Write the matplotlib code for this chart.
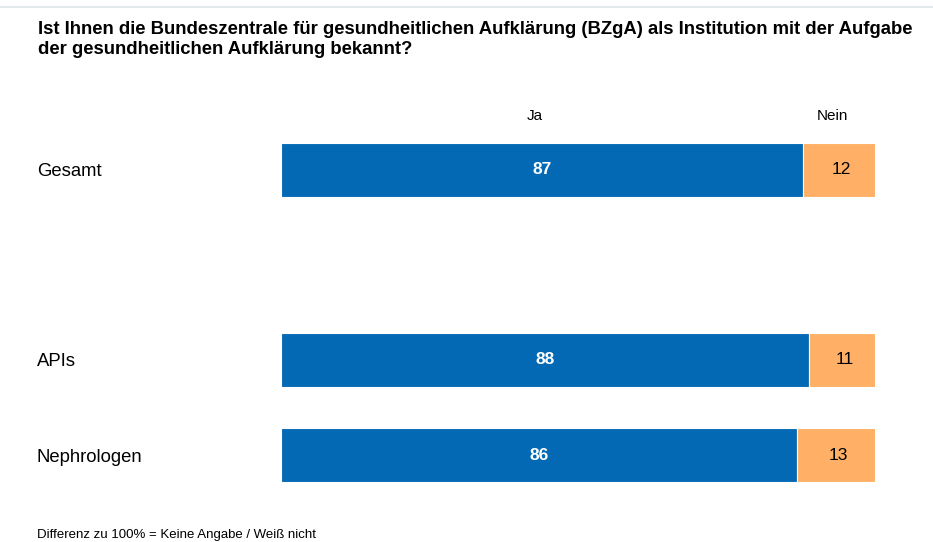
import matplotlib.pyplot as plt
import numpy as np

plt.rcParams['font.family'] = ['Liberation Sans', 'DejaVu Sans']

categories = ["Gesamt", "APIs", "Nephrologen"]
positions = [0, 2, 3]
ja = [87, 88, 86]
nein = [12, 11, 13]
series_labels = ["Ja", "Nein"]

blue = "#0369B5"
orange = "#FFB066"

W, H = 933, 542
fig = plt.figure(figsize=(W/100, H/100), dpi=100)
ax = fig.add_axes([281/W, (542-502.5)/H, 594/W, 380/H])
ax.set_xlim(0, 99)
ax.set_ylim(3.5, -0.5)
ax.axis('off')

bh = 0.57
ax.barh(positions, ja, height=bh, color=blue, edgecolor='white', linewidth=0.8)
ax.barh(positions, nein, left=ja, height=bh, color=orange, edgecolor='white', linewidth=0.8)

for p, j, n in zip(positions, ja, nein):
    ax.text(j/2, p, str(j), ha='center', va='center', color='white', fontsize=12.5, fontweight='bold')
    ax.text(j + n/2 + 0.4, p, str(n), ha='center', va='center', color='black', fontsize=12.5)

# category labels
for p, c in zip(positions, categories):
    ypix = ax.transData.transform((0, p))[1]
    fig.text(37/W, (ypix - 2)/H, c, ha='left', va='center', fontsize=13.3)

# column headers
fig.text(535/W, 1 - 120/H, series_labels[0], ha='center', va='baseline', fontsize=11)
fig.text(832/W, 1 - 120/H, series_labels[1], ha='center', va='baseline', fontsize=11)

fig.text(38/W, 1 - 34/H,
         "Ist Ihnen die Bundeszentrale für gesundheitlichen Aufklärung (BZgA) als Institution mit der Aufgabe",
         ha='left', va='baseline', fontsize=13.3, fontweight='bold')
fig.text(38/W, 1 - 54/H,
         "der gesundheitlichen Aufklärung bekannt?",
         ha='left', va='baseline', fontsize=13.3, fontweight='bold')

fig.text(37/W, 1 - 538/H, "Differenz zu 100% = Keine Angabe / Weiß nicht",
         ha='left', va='baseline', fontsize=9.5)

fig.add_artist(plt.Line2D([0, 1], [1 - 7/H, 1 - 7/H], color='#E3E8EA', linewidth=1.5))

fig.savefig("out.png", dpi=100)
